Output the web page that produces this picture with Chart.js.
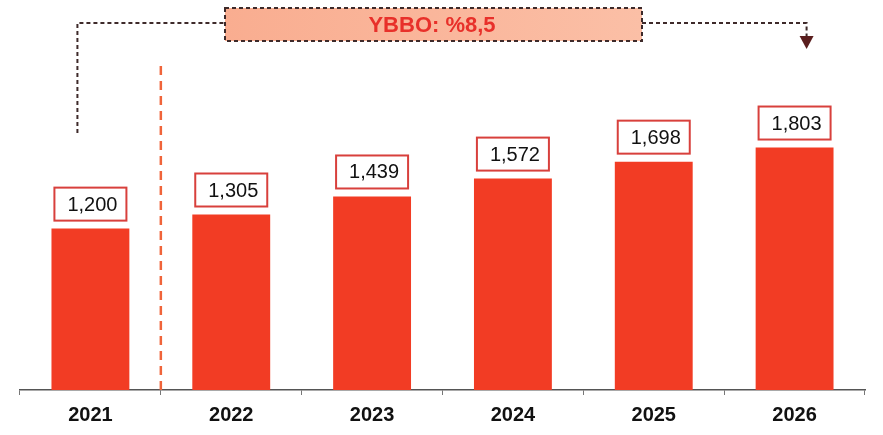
<!DOCTYPE html>
<html>
<head>
<meta charset="utf-8">
<script src="https://cdn.jsdelivr.net/npm/chart.js@4/dist/chart.umd.min.js"></script>
<style>
  html, body { margin: 0; padding: 0; background: #fff; }
  #wrap { width: 883px; height: 435px; }
</style>
</head>
<body>
<div id="wrap"><canvas id="chart"></canvas></div>
<script>
var years = ["2021", "2022", "2023", "2024", "2025", "2026"]
var values = [1200, 1305, 1439, 1572, 1698, 1803]
var growthText = "YBBO: %8,5"

var font = "'Liberation Sans', Arial, sans-serif"

// boxes above bars, split line, growth annotation
var extras = {
    id: "extras",
    afterDatasetsDraw: function (chart) {
        var ctx = chart.ctx
        var area = chart.chartArea
        var bars = chart.getDatasetMeta(0).data

        ctx.save()

        // dashed split line between 2021 and 2022
        var splitX = (bars[0].x + bars[1].x) / 2
        ctx.strokeStyle = "#f0643a"
        ctx.lineWidth = 2.5
        ctx.setLineDash([9, 6])
        ctx.beginPath()
        ctx.moveTo(splitX, 66)
        ctx.lineTo(splitX, area.bottom)
        ctx.stroke()

        // value boxes
        ctx.setLineDash([])
        ctx.font = "20px " + font
        ctx.textAlign = "center"
        ctx.textBaseline = "middle"
        for (var i = 0; i < bars.length; i++) {
            var b = bars[i]
            var w = 72, h = 33
            var bx = b.x - w / 2, by = b.y - 8 - h
            ctx.fillStyle = "#fff"
            ctx.fillRect(bx, by, w, h)
            ctx.strokeStyle = "#d8403c"
            ctx.lineWidth = 2
            ctx.strokeRect(bx, by, w, h)
            ctx.fillStyle = "#111"
            ctx.fillText(values[i].toLocaleString("en-US"), b.x + 2, by + h / 2 + 1)
        }

        // growth box + connectors
        var left = bars[0].x - 13
        var right = bars[5].x + 12
        var boxL = 225, boxR = 642, boxT = 8, boxB = 41
        var lineY = 23

        ctx.strokeStyle = "#3e2a2a"
        ctx.lineWidth = 2
        ctx.setLineDash([4, 3])
        ctx.beginPath()
        ctx.moveTo(left, 133)
        ctx.lineTo(left, lineY)
        ctx.lineTo(boxL, lineY)
        ctx.moveTo(boxR, lineY)
        ctx.lineTo(right, lineY)
        ctx.lineTo(right, 36)
        ctx.stroke()

        ctx.setLineDash([])
        ctx.fillStyle = "#5a1e1e"
        ctx.beginPath()
        ctx.moveTo(right - 7, 36)
        ctx.lineTo(right + 7, 36)
        ctx.lineTo(right, 49)
        ctx.closePath()
        ctx.fill()

        var grad = ctx.createLinearGradient(boxL, 0, boxR, 0)
        grad.addColorStop(0, "#f9ad90")
        grad.addColorStop(1, "#fbbfa6")
        ctx.fillStyle = grad
        ctx.fillRect(boxL, boxT, boxR - boxL, boxB - boxT)
        ctx.setLineDash([4, 3])
        ctx.strokeStyle = "#3e2a2a"
        ctx.strokeRect(boxL, boxT, boxR - boxL, boxB - boxT)

        ctx.setLineDash([])
        ctx.fillStyle = "#e8302a"
        ctx.font = "bold 22px " + font
        ctx.fillText(growthText, 432, 26)

        ctx.restore()
    }
}

var ctx = document.getElementById("chart").getContext("2d")
var myChart = new Chart(ctx, {
    type: "bar",
    data: {
        labels: years,
        datasets: [{
            data: values,
            backgroundColor: "#f23c24",
            borderWidth: 0,
            categoryPercentage: 1,
            barPercentage: 0.553
        }]
    },
    options: {
        responsive: true,
        maintainAspectRatio: false,
        animation: false,
        layout: { padding: { left: 20, right: 18, top: 0, bottom: 0 } },
        plugins: {
            legend: { display: false },
            tooltip: { enabled: false }
        },
        scales: {
            x: {
                grid: {
                    display: true,
                    drawOnChartArea: false,
                    drawTicks: true,
                    tickLength: 5,
                    color: "#777"
                },
                border: { display: true, color: "#555", width: 1.5 },
                ticks: {
                    padding: 8,
                    color: "#111",
                    font: { family: font, size: 20, weight: "bold" }
                }
            },
            y: {
                display: false,
                min: 0,
                max: 2900
            }
        }
    },
    plugins: [extras]
})
</script>
</body>
</html>
